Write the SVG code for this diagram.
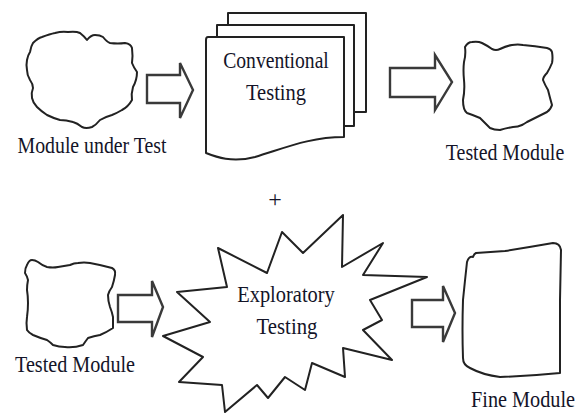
<svg xmlns="http://www.w3.org/2000/svg" width="582" height="414" viewBox="0 0 582 414">
<style>
.shape{fill:#fff;stroke:#222;stroke-width:2;stroke-linejoin:round}
.arrow{fill:#fff;stroke:#3a3a3a;stroke-width:2.4;stroke-linejoin:miter}
.lbl{font-family:'Liberation Serif','DejaVu Serif',serif;font-size:24px;fill:#141428;text-anchor:middle}
</style>
<rect width="582" height="414" fill="#fff"/>
<g id="connectors">
<path class="arrow" d="M147,75 L180,75 L180,63 L193,90 L180,118 L180,103 L147,103 Z"/>
<path class="arrow" d="M390,68 L435,68 L435,55 L452,82 L435,110 L435,97 L390,97 Z"/>
<path class="arrow" d="M118,295 L152,295 L152,281 L163,307 L152,337 L152,322 L118,322 Z"/>
<path class="arrow" d="M412,300 L443,300 L443,286 L455,313 L443,342 L443,327 L412,327 Z"/>
<text class="lbl" x="275" y="207">+</text>
</g>
<g id="module-under-test">
<path class="shape" d="M33,43 Q38,38 42,37 Q50,34 55,33 Q62,31 68,32 Q76,31 80,33 Q85,37 87,40 Q91,35 95,35 Q100,35 103,37 Q107,42 110,43 Q118,44 125,43 Q131,44 132,48 Q133,56 132,63 Q134,68 137,72 Q137,80 133,87 Q131,94 132,100 Q128,107 122,110 Q117,113 112,115 Q105,117 100,120 Q96,125 92,127 Q86,129 82,127 Q77,123 73,122 Q66,120 60,120 Q53,118 47,115 Q41,111 37,107 Q33,103 32,98 Q31,93 33,88 Q33,84 30,80 Q27,75 27,70 Q26,65 27,60 Q28,55 30,52 Q31,46 33,43 Z"/>
<text class="lbl" transform="translate(92,153) scale(0.8,1)" textLength="186" lengthAdjust="spacingAndGlyphs">Module under Test</text>
</g>
<g id="conventional-testing">
<rect class="shape" x="228" y="13" width="138" height="99"/>
<rect class="shape" x="217" y="25" width="137" height="101"/>
<path class="shape" d="M208,37 L344,37 L344,137 C310,137 285,148 255,157 C232,163 216,157 206,153 L206,40 Q206,37 208,37 Z"/>
<text class="lbl" transform="translate(276,68) scale(0.8,1)" textLength="132" lengthAdjust="spacingAndGlyphs">Conventional</text>
<text class="lbl" transform="translate(276,100) scale(0.8,1)" textLength="75" lengthAdjust="spacingAndGlyphs">Testing</text>
</g>
<g id="tested-module-top">
<path class="shape" d="M465,47 Q468,42 472,42 Q478,41 482,43 Q488,46 492,49 Q496,51 500,49 Q506,46 512,45 Q518,44 523,45 Q535,46 547,48 Q551,49 552,52 Q553,58 552,63 Q550,68 547,73 Q543,77 543,80 Q545,85 548,90 Q550,98 552,105 Q551,109 547,112 Q537,117 527,122 Q524,124 522,125 Q518,127 513,127 Q506,128 500,130 Q494,130 490,128 Q485,123 480,118 Q473,115 467,113 Q463,110 463,100 Q465,90 464,80 Q463,70 464,62 Q466,55 465,47 Z"/>
<text class="lbl" transform="translate(505,160) scale(0.8,1)" textLength="148" lengthAdjust="spacingAndGlyphs">Tested Module</text>
</g>
<g id="tested-module-bottom">
<path class="shape" d="M27,265 Q29,260 32,260 Q35,260 38,262 Q43,266 47,267 Q53,268 58,267 Q64,266 70,265 Q74,263 78,263 Q84,262 90,263 Q101,265 112,268 Q116,270 115,275 Q114,281 112,287 Q109,291 108,295 Q108,301 110,307 Q112,312 113,317 Q113,323 113,328 Q107,332 100,335 Q94,336 88,338 Q85,342 83,345 Q74,348 65,347 Q59,347 53,345 Q50,342 47,340 Q40,338 33,335 Q29,333 27,330 Q26,323 27,317 Q28,310 28,303 Q28,296 27,290 Q27,285 28,280 Q27,276 25,273 Q25,268 27,265 Z"/>
<text class="lbl" transform="translate(75,372) scale(0.8,1)" textLength="150" lengthAdjust="spacingAndGlyphs">Tested Module</text>
</g>
<g id="exploratory-testing">
<path class="shape" d="M343,215 L342,267 L383,243 L363,275 L427,277 L370,300 L382,320 L363,330 L392,360 L343,348 L345,377 L312,363 L305,390 L285,377 L268,398 L257,385 L225,412 L222,385 L179,382 L203,357 L163,336 L210,322 L177,292 L227,287 L218,248 L267,273 L282,232 L303,253 Z"/>
<text class="lbl" transform="translate(286,302) scale(0.8,1)" textLength="122" lengthAdjust="spacingAndGlyphs">Exploratory</text>
<text class="lbl" transform="translate(287,334) scale(0.8,1)" textLength="76" lengthAdjust="spacingAndGlyphs">Testing</text>
</g>
<g id="fine-module">
<path class="shape" d="M467,262 Q469,256 473,257 Q474,254 476,253 Q490,252 505,251 Q530,247 553,243 Q560,243 561,250 L560,300 L560,373 Q530,376 500,377 Q483,375 470,368 Q463,365 463,358 Q462,330 463,300 Q465,280 467,262 Z"/>
<text class="lbl" transform="translate(523,407) scale(0.8,1)" textLength="130" lengthAdjust="spacingAndGlyphs">Fine Module</text>
</g>
</svg>
